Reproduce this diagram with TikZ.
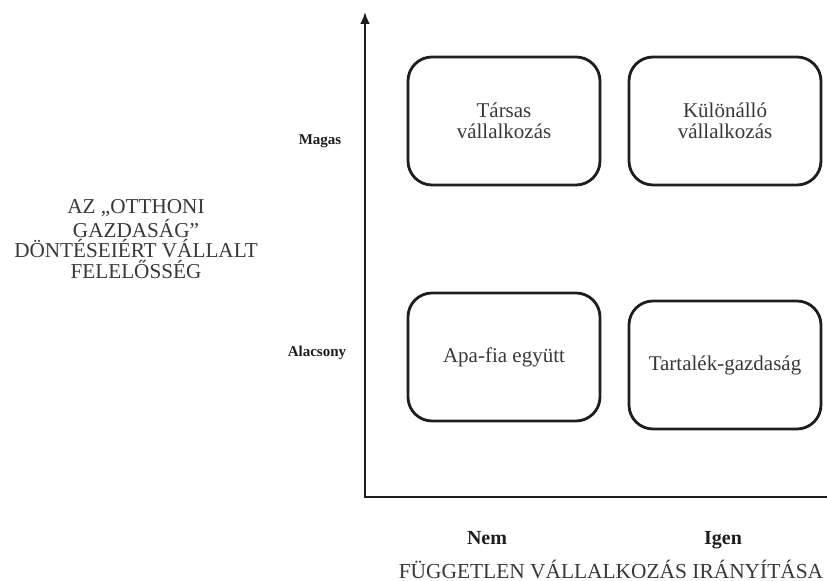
\documentclass[tikz,border=0pt]{standalone}
\usepackage{fontspec}
\setmainfont{Liberation Serif}
\usetikzlibrary{arrows.meta,positioning}
\definecolor{Ink}{HTML}{1E1E1E}
\definecolor{Label}{HTML}{383838}

\begin{document}
\begin{tikzpicture}[x=0.5pt,y=-0.5pt,
  quad/.style={draw=Ink,line width=1.4pt,rounded corners=12pt,minimum width=96pt,minimum height=64pt,
    inner sep=2pt,align=center,font=\fontsize{10.5}{10.6}\selectfont,text=Label},
  level/.style={font=\bfseries\fontsize{7.5}{9}\selectfont,text=Ink},
  axis/.style={draw=Ink,line width=1.3pt}]
\useasboundingbox (0,0) rectangle (827,581);
% axes
\coordinate (origin) at (365,497);
\coordinate (ytop) at (365,12);
\coordinate (xend) at (827,497);
\draw[axis,-{Latex[length=6pt,width=5pt]}] ([yshift=-0.6pt]origin) -- (ytop);
\draw[axis] ([xshift=-0.6pt]origin) -- (xend);
% quadrants
\node[quad] (tarsas) at (504,121) {Társas\\vállalkozás};
\node[quad] (kulon) at (725,121) {Különálló\\vállalkozás};
\node[quad] (apafia) at (504,357) {Apa-fia együtt};
\node[quad] (tartalek) at (725,365) {Tartalék-gazdaság};
% axis labels
\node[level] (magas) at (320,141) {Magas};
\node[level] (alacsony) at (317,353) {Alacsony};
\node[level,anchor=base,font=\bfseries\fontsize{10}{12}\selectfont] (nem) at (487,545) {Nem};
\node[level,anchor=base,font=\bfseries\fontsize{10}{12}\selectfont] (igen) at (723,545) {Igen};
\node[align=center,font=\fontsize{10.6}{10.2}\selectfont,text=Label] (ylabel) at (136,239)
  {AZ „OTTHONI\\GAZDASÁG”\\DÖNTÉSEIÉRT VÁLLALT\\FELELŐSSÉG};
\node[inner sep=0pt,font=\fontsize{10.7}{12}\selectfont,text=Label] (xlabel) at (611,569)
  {FÜGGETLEN VÁLLALKOZÁS IRÁNYÍTÁSA};
\end{tikzpicture}
\end{document}
